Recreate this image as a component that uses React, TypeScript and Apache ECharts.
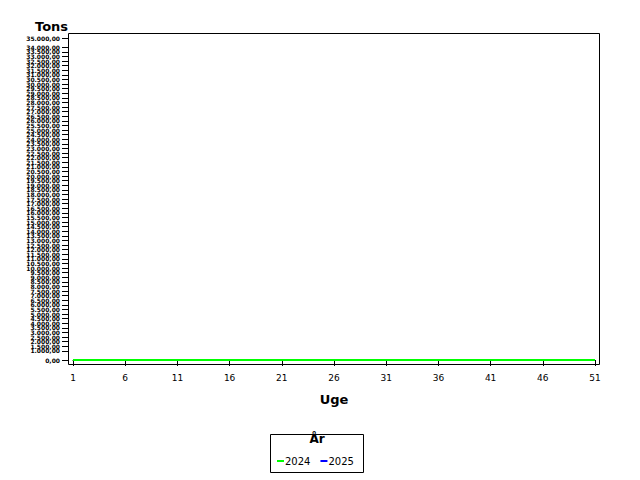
import { useEffect, useRef } from "react";
import * as echarts from "echarts";

const weeks = Array.from({ length: 51 }, (_, i) => String(i + 1));
const tons2024 = [
  0, 0, 0, 0, 0, 0, 0, 0, 0, 0, 0, 0, 0, 0, 0, 0, 0, 0, 0, 0, 0, 0, 0, 0, 0, 0,
  0, 0, 0, 0, 0, 0, 0, 0, 0, 0, 0, 0, 0, 0, 0, 0, 0, 0, 0, 0, 0, 0, 0, 0, 0,
];
const tons2025: (number | null)[] = [];
const seriesNames = ["2024", "2025"];
const seriesColors = ["#00ff00", "#0000ff"];

const FONT = "DejaVu Sans, Verdana, sans-serif";

const formatDa = (v: number) => {
  const fixed = v.toFixed(2);
  const [int, dec] = fixed.split(".");
  return int.replace(/\B(?=(\d{3})+(?!\d))/g, ".") + "," + dec;
};

export default function App() {
  const ref = useRef<HTMLDivElement | null>(null);

  useEffect(() => {
    if (!ref.current) return;
    document.body.style.margin = "0";
    const chart = echarts.init(ref.current, undefined, { renderer: "svg" });

    chart.setOption({
      animation: false,
      backgroundColor: "#ffffff",
      textStyle: { fontFamily: FONT },
      grid: { left: 73, right: 45, top: 38, bottom: 120 },
      legend: {
        left: 272,
        top: 451,
        icon: "rect",
        itemWidth: 7,
        itemHeight: 2,
        itemGap: 10,
        textStyle: {
          fontSize: 10,
          color: "#000",
          fontFamily: FONT,
          padding: [0, 0, 0, -4],
        },
        data: seriesNames,
      },
      xAxis: {
        type: "category",
        data: weeks,
        boundaryGap: false,
        offset: 5,
        name: "Uge",
        nameLocation: "middle",
        nameGap: 28,
        nameTextStyle: { fontSize: 13, fontWeight: "bold", color: "#000" },
        axisLine: { show: true, lineStyle: { color: "#000", width: 1 } },
        axisTick: {
          show: true,
          length: 6,
          interval: 4,
          alignWithLabel: true,
          lineStyle: { color: "#000" },
        },
        axisLabel: { interval: 4, fontSize: 9, color: "#000", margin: 8 },
        splitLine: { show: false },
      },
      yAxis: {
        type: "value",
        min: 0,
        max: 35000,
        interval: 500,
        offset: 5,
        axisLine: { show: true, lineStyle: { color: "#000", width: 1 } },
        axisTick: { show: true, length: 6, lineStyle: { color: "#000" } },
        axisLabel: {
          fontSize: 6,
          fontWeight: "bold",
          color: "#000",
          margin: 8,
          showMinLabel: true,
          showMaxLabel: true,
          hideOverlap: false,
          formatter: (v: number) => formatDa(v),
        },
        splitLine: { show: false },
      },
      graphic: [
        {
          type: "rect",
          shape: { x: 68.5, y: 33.5, width: 531, height: 331 },
          style: { fill: "none", stroke: "#000", lineWidth: 1 },
          silent: true,
        },
        {
          type: "text",
          x: 35,
          y: 20,
          style: { text: "Tons", font: `bold 13px ${FONT}`, fill: "#000" },
        },
        {
          type: "rect",
          shape: { x: 270.5, y: 434.5, width: 93, height: 38 },
          style: { fill: "none", stroke: "#000", lineWidth: 1 },
          silent: true,
        },
        {
          type: "text",
          x: 317,
          y: 433,
          style: {
            text: "År",
            font: `bold 12px ${FONT}`,
            fill: "#000",
            align: "center",
          },
        },
      ],
      series: [
        {
          name: seriesNames[0],
          type: "line",
          data: tons2024,
          showSymbol: false,
          color: seriesColors[0],
          lineStyle: { width: 2, color: seriesColors[0] },
        },
        {
          name: seriesNames[1],
          type: "line",
          data: tons2025,
          showSymbol: false,
          color: seriesColors[1],
          lineStyle: { width: 2, color: seriesColors[1] },
        },
      ],
    });

    return () => chart.dispose();
  }, []);

  return <div ref={ref} style={{ width: 640, height: 480 }} />;
}
